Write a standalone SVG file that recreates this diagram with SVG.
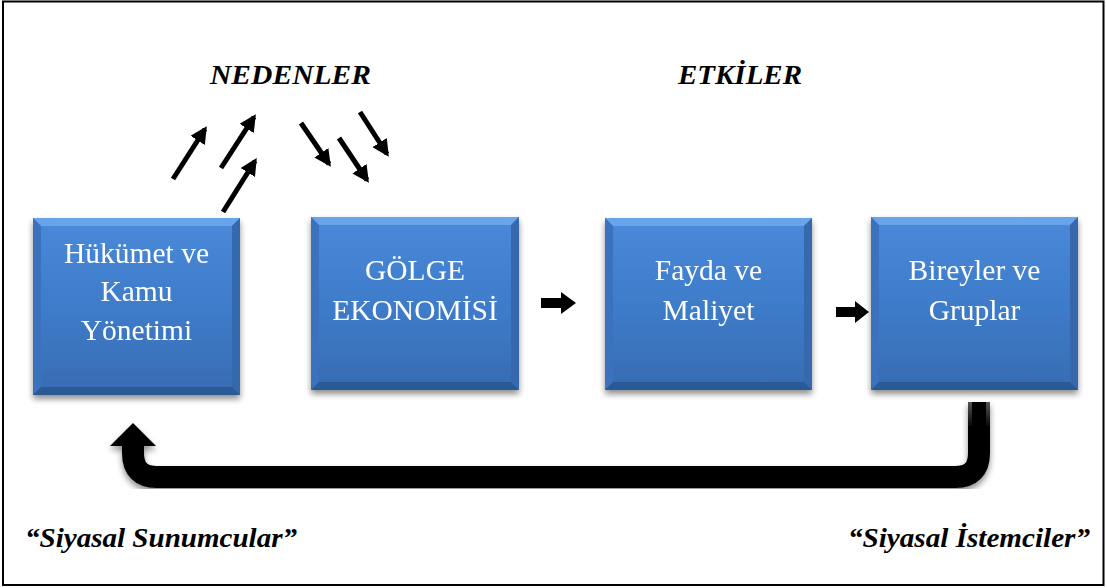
<svg xmlns="http://www.w3.org/2000/svg" width="1107" height="588" viewBox="0 0 1107 588">
<defs>
<style>
.bt{font-family:"Liberation Serif","Times New Roman",serif;font-size:29.5px;fill:#ffffff;text-anchor:middle}
.tt{font-family:"Liberation Serif","Times New Roman",serif;font-size:28px;font-weight:bold;font-style:italic;fill:#000000}
.ar{stroke:#000;stroke-width:5;fill:none;marker-end:url(#ah)}
.top{fill:#6ea9ee}
.bot{fill:#2c5a96}
.side{fill:#3a72bd}
.sider{fill:#3568ad}
</style>
<linearGradient id="bg" x1="0" y1="0" x2="0" y2="1">
<stop offset="0" stop-color="#4a8ad9"/>
<stop offset="0.5" stop-color="#3e7cca"/>
<stop offset="1" stop-color="#386cb2"/>
</linearGradient>
<linearGradient id="ug" x1="0" y1="0" x2="0" y2="1">
<stop offset="0" stop-color="#555"/>
<stop offset="0.35" stop-color="#000"/>
<stop offset="1" stop-color="#000"/>
</linearGradient>
<filter id="sh" x="-10%" y="-10%" width="120%" height="125%">
<feGaussianBlur in="SourceAlpha" stdDeviation="3"/>
<feOffset dx="0" dy="4" result="b"/>
<feComponentTransfer><feFuncA type="linear" slope="0.45"/></feComponentTransfer>
<feMerge><feMergeNode/><feMergeNode in="SourceGraphic"/></feMerge>
</filter>
<marker id="ah" viewBox="0 0 10 10" refX="8" refY="5" markerWidth="3.4" markerHeight="3.4" orient="auto" markerUnits="strokeWidth">
<path d="M0,0 L10,5 L0,10 Z" fill="#000"/>
</marker>
</defs>
<rect x="0" y="0" width="1107" height="588" fill="#ffffff"/>
<rect x="3" y="1.5" width="1100.5" height="583.5" fill="none" stroke="#000" stroke-width="2"/>

<text class="tt" x="210" y="84" textLength="161" lengthAdjust="spacingAndGlyphs">NEDENLER</text>
<text class="tt" x="678" y="84" textLength="124" lengthAdjust="spacingAndGlyphs">ETKİLER</text>
<text class="tt" x="25" y="547" textLength="272" lengthAdjust="spacingAndGlyphs">“Siyasal Sunumcular”</text>
<text class="tt" x="848" y="547" textLength="242" lengthAdjust="spacingAndGlyphs">“Siyasal İstemciler”</text>

<g id="node-hukumet" filter="url(#sh)">
<rect x="33" y="218" width="207" height="177" fill="url(#bg)"/>
<polygon class="top" points="33,218 240,218 232,226 41,226" opacity="0.85"/>
<polygon class="side" points="33,218 41,226 41,387 33,395"/>
<polygon class="sider" points="240,218 232,226 232,387 240,395"/>
<polygon class="bot" points="33,395 240,395 232,387 41,387"/>
<text class="bt" x="136.5" y="263">Hükümet ve</text>
<text class="bt" x="136.5" y="301">Kamu</text>
<text class="bt" x="136.5" y="340">Yönetimi</text>
</g>

<g id="node-golge" filter="url(#sh)">
<rect x="311" y="217" width="208" height="173" fill="url(#bg)"/>
<polygon class="top" points="311,217 519,217 511,225 319,225" opacity="0.85"/>
<polygon class="side" points="311,217 319,225 319,382 311,390"/>
<polygon class="sider" points="519,217 511,225 511,382 519,390"/>
<polygon class="bot" points="311,390 519,390 511,382 319,382"/>
<text class="bt" x="415" y="280">GÖLGE</text>
<text class="bt" x="415" y="320">EKONOMİSİ</text>
</g>

<g id="node-fayda" filter="url(#sh)">
<rect x="605" y="218" width="207" height="172" fill="url(#bg)"/>
<polygon class="top" points="605,218 812,218 804,226 613,226" opacity="0.85"/>
<polygon class="side" points="605,218 613,226 613,382 605,390"/>
<polygon class="sider" points="812,218 804,226 804,382 812,390"/>
<polygon class="bot" points="605,390 812,390 804,382 613,382"/>
<text class="bt" x="708.5" y="280">Fayda ve</text>
<text class="bt" x="708.5" y="320">Maliyet</text>
</g>

<g id="node-bireyler" filter="url(#sh)">
<rect x="871" y="217" width="207" height="173" fill="url(#bg)"/>
<polygon class="top" points="871,217 1078,217 1070,225 879,225" opacity="0.85"/>
<polygon class="side" points="871,217 879,225 879,382 871,390"/>
<polygon class="sider" points="1078,217 1070,225 1070,382 1078,390"/>
<polygon class="bot" points="871,390 1078,390 1070,382 879,382"/>
<text class="bt" x="974.5" y="280">Bireyler ve</text>
<text class="bt" x="974.5" y="320">Gruplar</text>
</g>

<g id="connectors">
<line class="ar" x1="173" y1="179" x2="205" y2="129"/>
<line class="ar" x1="221" y1="168" x2="254" y2="117"/>
<line class="ar" x1="223" y1="212" x2="255" y2="161"/>
<line class="ar" x1="301" y1="123" x2="329" y2="164"/>
<line class="ar" x1="339" y1="138" x2="367" y2="180"/>
<line class="ar" x1="360" y1="112" x2="387" y2="154"/>
<polygon points="541,298 561,298 561,292 576,303 561,314 561,308 541,308" fill="#000"/>
<polygon points="836,307 855,307 855,301 869,312 855,323 855,317 836,317" fill="#000"/>
<g filter="url(#sh)">
<path d="M979,402 V453 Q979,477 955,477 H157 Q133,477 133,453 V444" fill="none" stroke="url(#ug)" stroke-width="22"/>
<path d="M979,402 V453 Q979,477 955,477 H157 Q133,477 133,453 V444" fill="none" stroke="#000" stroke-width="14"/>
<polygon points="110,446 156,446 133,423" fill="#000"/>
</g>
</g>
</svg>
